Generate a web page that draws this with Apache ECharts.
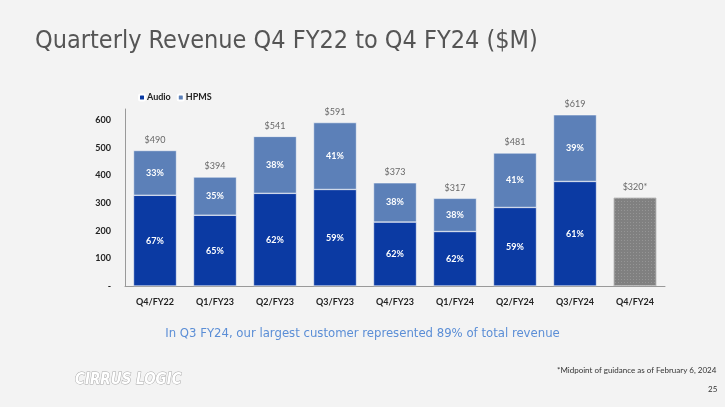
<!DOCTYPE html>
<html><head><meta charset="utf-8">
<script src="https://cdn.jsdelivr.net/npm/echarts@6/dist/echarts.min.js"></script>
<style>body{margin:0;background:#f3f3f3}#c{width:725px;height:407px}</style>
</head><body><div id="c"></div>
<script>
const categories = ['Q4/FY22','Q1/FY23','Q2/FY23','Q3/FY23','Q4/FY23','Q1/FY24','Q2/FY24','Q3/FY24','Q4/FY24'];
const totals = [490, 394, 541, 591, 373, 317, 481, 619, 320];
const audio = [328, 256, 335, 349, 231, 197, 284, 378, null];
const hpms = [162, 138, 206, 242, 142, 120, 197, 241, null];
const audioPct = ['67%','65%','62%','59%','62%','62%','59%','61%',''];
const hpmsPct = ['33%','35%','38%','41%','38%','38%','41%','39%',''];
const guidance = [null, null, null, null, null, null, null, null, 320];
const totalLabels = ['$490','$394','$541','$591','$373','$317','$481','$619','$320*'];

const chart = echarts.init(document.getElementById('c'));
chart.setOption({
  backgroundColor: '#f3f3f3',
  animation: false,
  title: [
    { text: 'Quarterly Revenue Q4 FY22 to Q4 FY24 ($M)', left: 30, top: 24,
      textStyle: { fontFamily: 'DejaVu Sans Condensed', fontWeight: 200, fontSize: 25, color: '#555' } },
    { text: 'In Q3 FY24, our largest customer represented 89% of total revenue', left: 'center', top: 322,
      textStyle: { fontFamily: 'DejaVu Sans Condensed', fontWeight: 'normal', fontSize: 13, color: '#5b8ed6' } },
    { text: '*Midpoint of guidance as of February 6, 2024', left: 552, top: 361,
      textStyle: { fontFamily: 'Lato', fontWeight: 'normal', fontSize: 8, color: '#333' } },
    { text: '25', left: 703, top: 380,
      textStyle: { fontFamily: 'Lato', fontWeight: 'normal', fontSize: 8, color: '#333' } },
    { text: 'CIRRUS LOGIC', left: 70, top: 368,
      textStyle: { fontFamily: 'DejaVu Sans Condensed', fontStyle: 'italic', fontWeight: 'bold', fontSize: 15, color: '#fff',
        textBorderColor: '#aaa', textBorderWidth: 1 } }
  ],
  legend: {
    data: ['Audio', 'HPMS'], left: 133, top: 88, itemWidth: 6, itemHeight: 6, itemGap: 6,
    textStyle: { fontFamily: 'Lato', fontWeight: 'bold', fontSize: 9, color: '#222', padding: [0, 0, 0, -3] }
  },
  grid: { left: 125, right: 60, top: 109, bottom: 121 },
  xAxis: {
    type: 'category', data: categories,
    axisLine: { lineStyle: { color: '#999' } }, axisTick: { show: false },
    axisLabel: { fontFamily: 'Lato', fontWeight: 'bold', fontSize: 9, color: '#222', margin: 12 }
  },
  yAxis: {
    type: 'value', min: 0, max: 640, interval: 100,
    axisLine: { show: true, lineStyle: { color: '#999' } }, splitLine: { show: false },
    axisTick: { show: false },
    axisLabel: { fontFamily: 'Lato', fontWeight: 'bold', fontSize: 9, color: '#222', margin: 14,
      formatter: v => v === 0 ? '-' : (v % 100 === 0 ? v : '') }
  },
  series: [
    { name: 'Audio', type: 'bar', stack: 'r', data: audio, barWidth: 43,
      itemStyle: { color: '#0b3aa3', borderColor: '#fff', borderWidth: 0.5 },
      label: { show: true, color: '#fff', fontFamily: 'Lato', fontWeight: 'bold', fontSize: 9,
        formatter: p => audioPct[p.dataIndex] } },
    { name: 'HPMS', type: 'bar', stack: 'r', data: hpms,
      itemStyle: { color: '#5c80b8', borderColor: '#fff', borderWidth: 0.5 },
      label: { show: true, color: '#fff', fontFamily: 'Lato', fontWeight: 'bold', fontSize: 9,
        formatter: p => hpmsPct[p.dataIndex] } },
    { name: 'Guidance', type: 'bar', stack: 'r', data: guidance,
      itemStyle: { color: '#808080', borderColor: '#bbb', borderWidth: 1, borderType: 'dotted',
        decal: { symbol: 'rect', dashArrayX: [1, 2], dashArrayY: [1, 2], color: 'rgba(170,170,170,0.5)' } } },
    { name: 'Total', type: 'scatter', data: totals, symbolSize: 0,
      label: { show: true, position: 'top', distance: 6, color: '#444', fontFamily: 'Lato', fontSize: 9,
        formatter: p => totalLabels[p.dataIndex] } }
  ]
});
</script></body></html>
